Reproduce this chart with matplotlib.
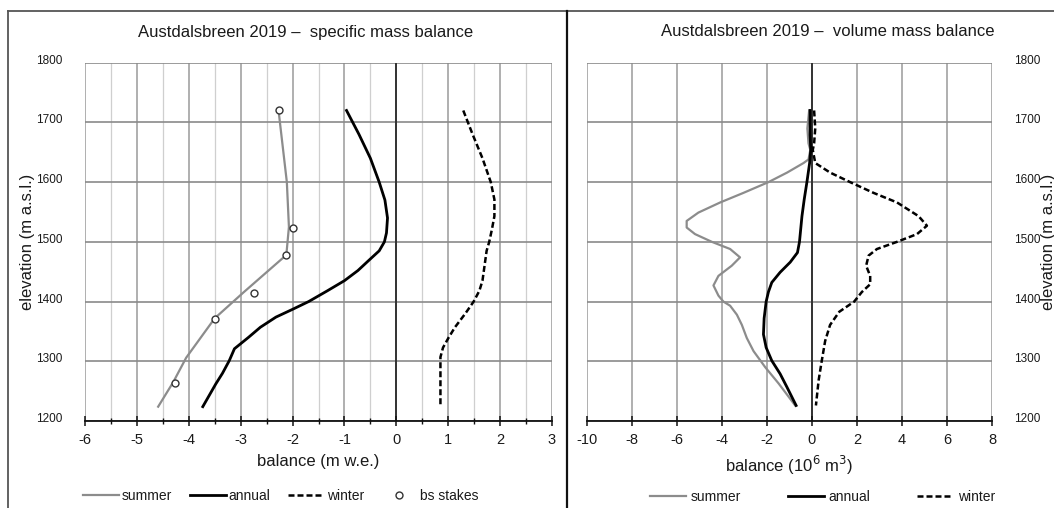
import matplotlib
matplotlib.use("Agg")
import matplotlib.pyplot as plt
from matplotlib.lines import Line2D
from matplotlib.transforms import ScaledTranslation
import numpy as np

plt.rcParams['font.family'] = ['Liberation Sans', 'DejaVu Sans']

# ---------------- data: specific mass balance (m w.e.) ----------------
spec_summer_elev = [1720, 1600, 1525, 1478, 1415, 1372, 1330, 1306, 1265, 1224]
spec_summer_bal  = [-2.27, -2.11, -2.07, -2.12, -2.95, -3.50, -3.85, -4.05, -4.30, -4.59]

spec_annual_elev = [1720, 1680, 1640, 1600, 1570, 1540, 1515, 1500, 1485, 1469, 1452, 1435,
                    1418, 1400, 1387, 1374, 1357, 1340, 1321, 1301, 1280, 1262, 1224]
spec_annual_bal  = [-0.96, -0.72, -0.50, -0.33, -0.22, -0.17, -0.19, -0.23, -0.33, -0.53, -0.74,
                    -1.00, -1.33, -1.69, -2.00, -2.32, -2.62, -2.85, -3.12, -3.22, -3.35, -3.48, -3.73]

spec_winter_elev = [1720, 1680, 1640, 1600, 1571, 1543, 1520, 1500, 1485, 1460, 1435, 1418,
                    1400, 1380, 1357, 1340, 1323, 1307, 1280, 1250, 1224]
spec_winter_bal  = [1.29, 1.47, 1.66, 1.82, 1.89, 1.89, 1.84, 1.79, 1.74, 1.70, 1.66, 1.60,
                    1.49, 1.33, 1.13, 1.01, 0.90, 0.85, 0.85, 0.85, 0.85]

stakes_elev = [1720, 1524, 1478, 1415, 1370, 1264]
stakes_bal  = [-2.27, -2.00, -2.12, -2.74, -3.49, -4.26]

# ---------------- data: volume mass balance (10^6 m3) ----------------
vol_summer_elev = [1720, 1690, 1665, 1654, 1638, 1632, 1616, 1600, 1582, 1566, 1549, 1535,
                   1524, 1513, 1500, 1488, 1474, 1460, 1443, 1427, 1410, 1400, 1393, 1378,
                   1361, 1339, 1317, 1290, 1263, 1241, 1226]
vol_summer_bal  = [-0.12, -0.20, -0.15, -0.07, -0.15, -0.37, -1.10, -1.93, -3.04, -4.07, -5.04, -5.56,
                   -5.56, -5.19, -4.44, -3.63, -3.19, -3.56, -4.15, -4.37, -4.15, -3.93, -3.63, -3.33,
                   -3.11, -2.89, -2.59, -2.07, -1.48, -1.04, -0.74]

vol_annual_elev = [1720, 1680, 1654, 1632, 1600, 1571, 1543, 1500, 1482, 1466, 1449, 1432,
                   1416, 1400, 1372, 1345, 1323, 1301, 1279, 1257, 1226]
vol_annual_bal  = [-0.08, -0.08, -0.05, -0.10, -0.22, -0.34, -0.44, -0.55, -0.64, -0.96, -1.41, -1.78,
                   -1.93, -2.03, -2.12, -2.15, -2.03, -1.78, -1.41, -1.11, -0.70]

vol_winter_elev = [1720, 1690, 1665, 1654, 1632, 1616, 1600, 1582, 1566, 1543, 1527, 1513,
                   1500, 1488, 1477, 1460, 1443, 1429, 1416, 1400, 1383, 1361, 1334, 1301,
                   1268, 1226]
vol_winter_bal  = [0.10, 0.15, 0.10, 0.04, 0.15, 0.81, 1.70, 2.74, 3.78, 4.74, 5.11, 4.67,
                   3.78, 2.89, 2.52, 2.41, 2.59, 2.59, 2.22, 1.88, 1.22, 0.81, 0.59, 0.44,
                   0.30, 0.18]

elev_ticks = [1200, 1300, 1400, 1500, 1600, 1700, 1800]

# ---------------- figure ----------------
W, H = 1054, 508
fig = plt.figure(figsize=(W / 100, H / 100), dpi=100)

def px_axes(x0, x1, ytop, ybot):
    return fig.add_axes([x0 / W, 1 - ybot / H, (x1 - x0) / W, (ybot - ytop) / H])

GRAY = '#8c8c8c'
TXT = '#1a1a1a'

axL = px_axes(85, 552, 62.7, 421)
axR = px_axes(586.7, 992, 62.7, 421)

def style(ax, xlim, xmaj, xminor, label):
    ax.set_xlim(*xlim)
    ax.set_ylim(1200, 1800)
    ax.set_yticks(elev_ticks)
    ax.set_xticks(xmaj)
    if xminor is not None:
        ax.set_xticks(xminor, minor=True)
        for xv in xminor:
            ax.axvline(xv, color='#cfcfcf', lw=0.9, zorder=0.5)
    for xv in xmaj:
        ax.axvline(xv, color='#9a9a9a', lw=1.1, zorder=0.6)
    for yv in elev_ticks:
        ax.axhline(yv, color='#8a8a8a', lw=1.2, zorder=0.6)
    ax.axvline(0, color='#333333', lw=1.4, zorder=0.7)
    for s in ['top', 'right', 'left']:
        ax.spines[s].set_visible(False)
    ax.spines['bottom'].set_color('#111111')
    ax.spines['bottom'].set_linewidth(1.3)
    ax.spines['bottom'].set_zorder(3)
    ax.tick_params(axis='x', which='major', direction='inout', length=7, width=1.1,
                   color='#111111', labelsize=10.5, pad=5, labelcolor=TXT)
    ax.tick_params(axis='x', which='minor', direction='inout', length=5, width=1.0,
                   color='#111111')
    ax.tick_params(axis='y', length=0, labelsize=8.5, pad=16, labelcolor=TXT)
    ax.set_xlabel(label, fontsize=12, color=TXT, labelpad=5)
    ax.set_facecolor('none')

# left panel
style(axL, (-6, 3), list(range(-6, 4)), list(np.arange(-5.5, 3, 1.0)), 'balance (m w.e.)')
axL.set_xticklabels([str(v) for v in range(-6, 4)])
axL.plot(spec_summer_bal, spec_summer_elev, color=GRAY, lw=1.6, zorder=3)
axL.plot(spec_annual_bal, spec_annual_elev, color='black', lw=2.0, zorder=3)
axL.plot(spec_winter_bal, spec_winter_elev, color='black', lw=1.8, dashes=(2.4, 1.2), zorder=3)
axL.plot(stakes_bal, stakes_elev, ls='none', marker='o', ms=5, mfc='white', mec='#333333',
         mew=1.0, zorder=4)

# right panel
style(axR, (-10, 8), list(range(-10, 9, 2)), None, 'balance (10$^{6}$ m$^{3}$)')
axR.set_xticklabels([str(v) for v in range(-10, 9, 2)])
axR.yaxis.tick_right()
axR.plot(vol_summer_bal, vol_summer_elev, color=GRAY, lw=1.6, zorder=3)
axR.plot(vol_annual_bal, vol_annual_elev, color='black', lw=2.0, zorder=3)
axR.plot(vol_winter_bal, vol_winter_elev, color='black', lw=1.8, dashes=(2.4, 1.2), zorder=3)

# nudge y tick labels slightly upward
for ax in (axL, axR):
    for lbl in ax.get_yticklabels():
        lbl.set_transform(lbl.get_transform() + ScaledTranslation(0, 3.5 / 100, fig.dpi_scale_trans))

# titles
fig.text(306 / W, 1 - 32 / H, 'Austdalsbreen 2019 –  specific mass balance', ha='center',
         va='center', fontsize=12, color=TXT)
fig.text(828 / W, 1 - 32 / H, 'Austdalsbreen 2019 –  volume mass balance', ha='center',
         va='center', fontsize=12, color=TXT)

# y labels
fig.text(28 / W, 1 - 242 / H, 'elevation (m a.s.l.)', rotation=90, ha='center', va='center',
         fontsize=12, color=TXT)
fig.text(1048 / W, 1 - 242 / H, 'elevation (m a.s.l.)', rotation=90, ha='center', va='center',
         fontsize=12, color=TXT)

# frame lines
fig.add_artist(Line2D([8 / W, 8 / W], [0, 1 - 11 / H], color='#555555', lw=1.3))
fig.add_artist(Line2D([8 / W, 1], [1 - 11 / H, 1 - 11 / H], color='#555555', lw=1.3))
fig.add_artist(Line2D([567 / W, 567 / W], [0, 1 - 11 / H], color='#111111', lw=1.6))

# legends
h_sum = Line2D([], [], color=GRAY, lw=1.6)
h_ann = Line2D([], [], color='black', lw=2.0)
h_win = Line2D([], [], color='black', lw=1.8, dashes=(2.4, 1.2))
h_stk = Line2D([], [], ls='none', marker='o', ms=5, mfc='white', mec='#333333', mew=1.0)

fig.legend([h_sum, h_ann, h_win, h_stk], ['summer', 'annual', 'winter', 'bs stakes'],
           loc='center left', bbox_to_anchor=(83 / W, 1 - 496 / H), ncol=4, frameon=False,
           handlelength=2.6, handletextpad=0.2, columnspacing=1.25, borderaxespad=0,
           borderpad=0, fontsize=10, labelcolor=TXT)
fig.legend([h_sum, h_ann, h_win], ['summer', 'annual', 'winter'],
           loc='center left', bbox_to_anchor=(650 / W, 1 - 497 / H), ncol=3, frameon=False,
           handlelength=2.6, handletextpad=0.3, columnspacing=3.4, borderaxespad=0,
           borderpad=0, fontsize=10, labelcolor=TXT)

fig.savefig('out.png', dpi=100, facecolor='white')
